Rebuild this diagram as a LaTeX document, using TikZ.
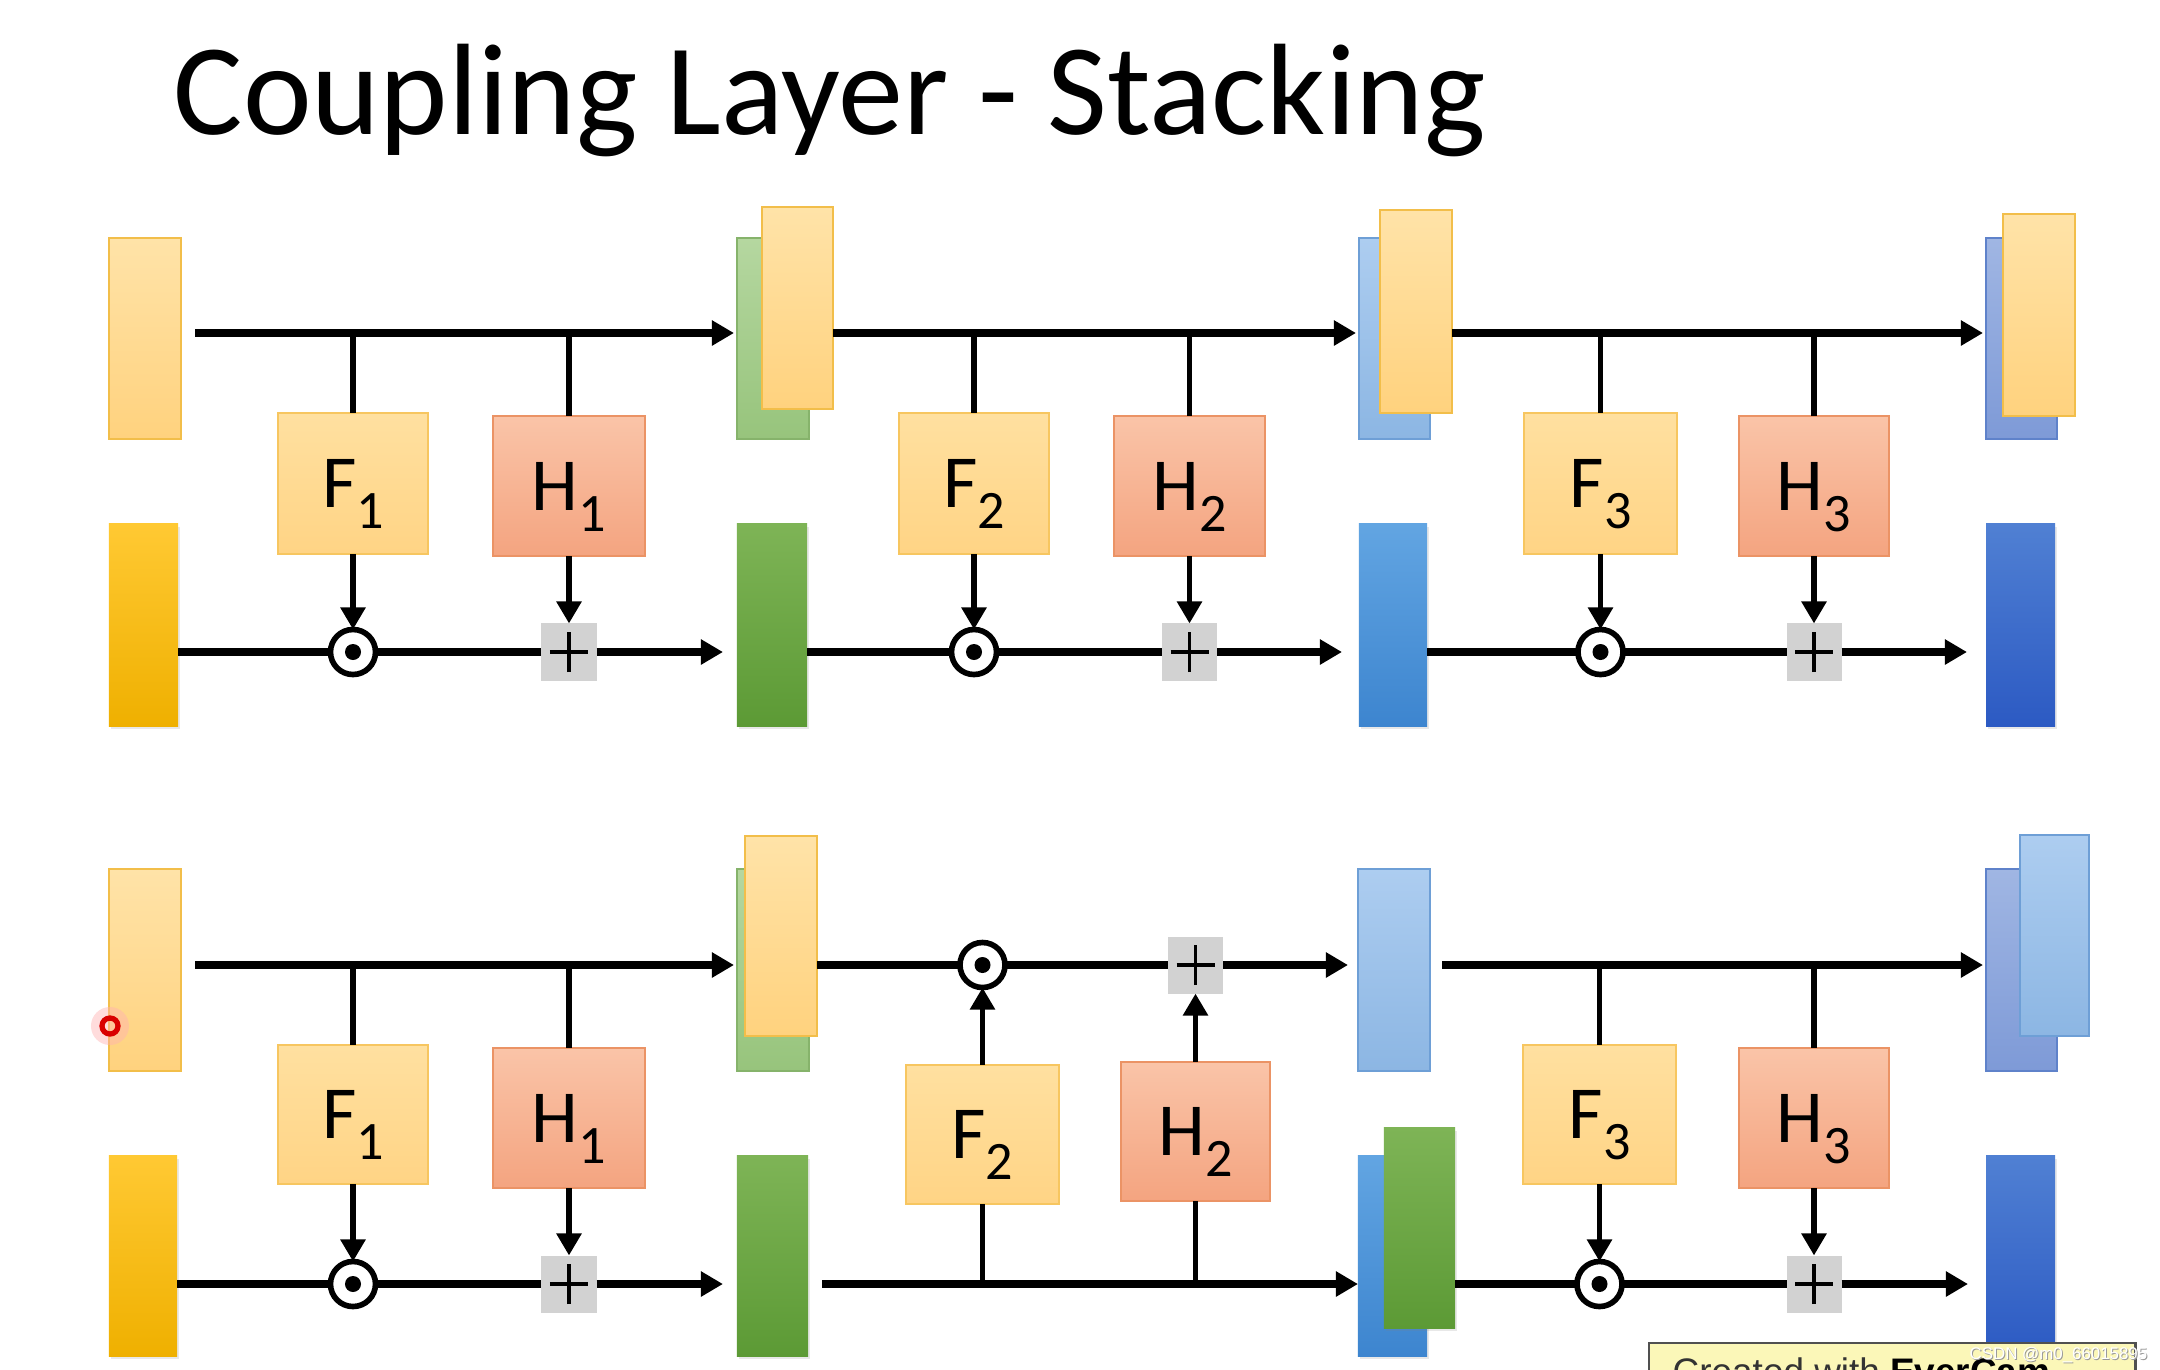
\documentclass[tikz,border=0pt]{standalone}
\usepackage{fontspec}
\setmainfont{Carlito}
\newfontfamily\arialfont{Liberation Sans}
\usetikzlibrary{arrows.meta,calc,shadows}
\definecolor{orTop}{HTML}{FFE3A8}
\definecolor{orBot}{HTML}{FFD27E}
\definecolor{orEdge}{HTML}{F2BE4A}
\definecolor{fTop}{HTML}{FFE0A0}
\definecolor{fBot}{HTML}{FFD485}
\definecolor{fEdge}{HTML}{F7C660}
\definecolor{hTop}{HTML}{FAC4A8}
\definecolor{hBot}{HTML}{F4A480}
\definecolor{hEdge}{HTML}{EB9365}
\definecolor{gdTop}{HTML}{FFC933}
\definecolor{gdBot}{HTML}{EFB000}
\definecolor{lgTop}{HTML}{B5D7A0}
\definecolor{lgBot}{HTML}{97C47C}
\definecolor{lgEdge}{HTML}{86B36B}
\definecolor{gnTop}{HTML}{7EB456}
\definecolor{gnBot}{HTML}{5C9A35}
\definecolor{lbTop}{HTML}{ADCDF0}
\definecolor{lbBot}{HTML}{8CB6E3}
\definecolor{lbEdge}{HTML}{6E9FD6}
\definecolor{mbTop}{HTML}{62A5E2}
\definecolor{mbBot}{HTML}{3D85CF}
\definecolor{pwTop}{HTML}{A0B6E3}
\definecolor{pwBot}{HTML}{7E9AD7}
\definecolor{pwEdge}{HTML}{5F82CA}
\definecolor{dbTop}{HTML}{5080D3}
\definecolor{dbBot}{HTML}{2C5AC3}
\definecolor{plusgray}{HTML}{D2D2D2}
\definecolor{tipfill}{HTML}{FBF7B8}
\definecolor{tipedge}{HTML}{505050}
\newcommand\flab[2]{#1\raisebox{-6.1pt}{\fontsize{15.4pt}{17pt}\selectfont #2}}
\tikzset{
  bar/.style={rectangle, inner sep=0pt, outer sep=0pt},
  shad/.style={drop shadow={shadow xshift=0.02cm, shadow yshift=-0.03cm, opacity=0.18}},
  lorange/.style={bar, top color=orTop, bottom color=orBot, draw=orEdge, line width=0.5pt},
  gold/.style={bar, shad, top color=gdTop, bottom color=gdBot},
  lgreen/.style={bar, top color=lgTop, bottom color=lgBot, draw=lgEdge, line width=0.5pt},
  green/.style={bar, shad, top color=gnTop, bottom color=gnBot},
  lblue/.style={bar, top color=lbTop, bottom color=lbBot, draw=lbEdge, line width=0.5pt},
  mblue/.style={bar, shad, top color=mbTop, bottom color=mbBot},
  peri/.style={bar, top color=pwTop, bottom color=pwBot, draw=pwEdge, line width=0.5pt},
  dblue/.style={bar, shad, top color=dbTop, bottom color=dbBot},
  fnbox/.style={rectangle, inner sep=0pt, outer sep=0pt, line width=0.6pt,
     font=\fontsize{21.3pt}{24pt}\selectfont, text depth=0pt},
  fbox/.style={fnbox, top color=fTop, bottom color=fBot, draw=fEdge},
  hbox/.style={fnbox, top color=hTop, bottom color=hBot, draw=hEdge},
  odot/.style={circle, draw=black, line width=1.6pt, fill=white, minimum size=0.45cm,
     inner sep=0pt, outer sep=0pt,
     path picture={\fill[black] (path picture bounding box.center) circle[radius=0.08cm];}},
  plusbox/.style={rectangle, fill=plusgray, minimum width=0.55cm, minimum height=0.57cm,
     inner sep=0pt, outer sep=0pt,
     path picture={\draw[black,line width=0.9pt]
        ([xshift=-0.19cm]path picture bounding box.center) -- ([xshift=0.19cm]path picture bounding box.center)
        ([yshift=-0.2cm]path picture bounding box.center) -- ([yshift=0.2cm]path picture bounding box.center);}},
  mline/.style={line width=2.1pt, black},
  bline/.style={line width=1.6pt, black},
  arr/.style={-{Triangle[length=0.22cm,width=0.24cm]}}
}
\begin{document}
\begin{tikzpicture}[x=0.01cm,y=-0.01cm]
\useasboundingbox (0,0) rectangle (2160,1369);
\clip (0,0) rectangle (2160,1369);
\fill[white] (0,0) rectangle (2160,1369);

\coordinate (LA1) at (0,333);
\coordinate (LA2) at (0,652);
\coordinate (LB1) at (0,965);
\coordinate (LB2) at (0,1284);

% title
\node[anchor=base west, inner sep=0pt, font=\fontsize{37pt}{44pt}\selectfont] (title) at (173,134) {Coupling Layer - Stacking};

% ---------- top diagram: bars ----------
\node[lorange, minimum width=0.72cm, minimum height=2.01cm] (A0t) at (145,338.5) {};
\node[gold, minimum width=0.69cm, minimum height=2.02cm] (A0b) at (143.5,625) {};
\node[lgreen, minimum width=0.72cm, minimum height=2.01cm] (A1k) at (773,338.5) {};
\node[lorange, minimum width=0.71cm, minimum height=2.02cm] (A1f) at (797.5,308) {};
\node[green, minimum width=0.70cm, minimum height=2.02cm] (A1g) at (772,625) {};
\node[lblue, minimum width=0.71cm, minimum height=2.01cm] (A2k) at (1394.5,338.5) {};
\node[lorange, minimum width=0.72cm, minimum height=2.03cm] (A2f) at (1416,311.5) {};
\node[mblue, minimum width=0.68cm, minimum height=2.02cm] (A2g) at (1393,625) {};
\node[peri, minimum width=0.71cm, minimum height=2.01cm] (A3k) at (2021.5,338.5) {};
\node[lorange, minimum width=0.72cm, minimum height=2.02cm] (A3f) at (2039,315) {};
\node[dblue, minimum width=0.69cm, minimum height=2.02cm] (A3g) at (2020.5,625) {};

% ---------- bottom diagram: bars ----------
\node[lorange, minimum width=0.72cm, minimum height=2.02cm] (B0t) at (145,970) {};
\node[gold, minimum width=0.68cm, minimum height=2.00cm] (B0b) at (143,1256) {};
\node[lgreen, minimum width=0.72cm, minimum height=2.02cm] (B1k) at (773,970) {};
\node[lorange, minimum width=0.72cm, minimum height=2.00cm] (B1f) at (781,936) {};
\node[green, minimum width=0.71cm, minimum height=2.00cm] (B1g) at (772.5,1256) {};
\node[lblue, minimum width=0.72cm, minimum height=2.02cm] (B2t) at (1394,970) {};
\node[mblue, minimum width=0.69cm, minimum height=2.00cm] (B2k) at (1392.5,1256) {};
\node[green, minimum width=0.71cm, minimum height=2.00cm] (B2f) at (1419.5,1228) {};
\node[peri, minimum width=0.71cm, minimum height=2.02cm] (B3k) at (2021.5,970) {};
\node[lblue, minimum width=0.69cm, minimum height=2.01cm] (B3f) at (2054.5,935.5) {};
\node[dblue, minimum width=0.69cm, minimum height=2.00cm] (B3g) at (2020.5,1256) {};

% ---------- function boxes ----------
\node[fbox, minimum width=1.50cm, minimum height=1.41cm] (F1A) at (353,483.5) {\flab{F}{1}};
\node[hbox, minimum width=1.52cm, minimum height=1.40cm] (H1A) at (569,486) {\flab{H}{1}};
\node[fbox, minimum width=1.50cm, minimum height=1.41cm] (F2A) at (974,483.5) {\flab{F}{2}};
\node[hbox, minimum width=1.51cm, minimum height=1.40cm] (H2A) at (1189.5,486) {\flab{H}{2}};
\node[fbox, minimum width=1.53cm, minimum height=1.41cm] (F3A) at (1600.5,483.5) {\flab{F}{3}};
\node[hbox, minimum width=1.50cm, minimum height=1.40cm] (H3A) at (1814,486) {\flab{H}{3}};

\node[fbox, minimum width=1.50cm, minimum height=1.39cm] (F1B) at (353,1114.5) {\flab{F}{1}};
\node[hbox, minimum width=1.52cm, minimum height=1.40cm] (H1B) at (569,1118) {\flab{H}{1}};
\node[fbox, minimum width=1.53cm, minimum height=1.39cm] (F2B) at (982.5,1134.5) {\flab{F}{2}};
\node[hbox, minimum width=1.49cm, minimum height=1.39cm] (H2B) at (1195.5,1131.5) {\flab{H}{2}};
\node[fbox, minimum width=1.53cm, minimum height=1.39cm] (F3B) at (1599.5,1114.5) {\flab{F}{3}};
\node[hbox, minimum width=1.50cm, minimum height=1.40cm] (H3B) at (1814,1118) {\flab{H}{3}};

% ---------- operators ----------
\node[odot] (oA1) at (F1A |- LA2) {};
\node[plusbox] (pA1) at (H1A |- LA2) {};
\node[odot] (oA2) at (F2A |- LA2) {};
\node[plusbox] (pA2) at (H2A |- LA2) {};
\node[odot] (oA3) at (F3A |- LA2) {};
\node[plusbox] (pA3) at (H3A |- LA2) {};

\node[odot] (oB1) at (F1B |- LB2) {};
\node[plusbox] (pB1) at (H1B |- LB2) {};
\node[odot] (oB2) at (F2B |- LB1) {};
\node[plusbox] (pB2) at (H2B |- LB1) {};
\node[odot] (oB3) at (F3B |- LB2) {};
\node[plusbox] (pB3) at (H3B |- LB2) {};

% ---------- top diagram connectors ----------
\draw[mline,arr,shorten <=0.14cm,shorten >=0.03cm] (A0t.east |- LA1) -- (A1k.west |- LA1);
\draw[bline] (F1A.north) -- (F1A.north |- LA1);
\draw[bline] (H1A.north) -- (H1A.north |- LA1);
\draw[bline,arr] (F1A.south) -- (oA1.north);
\draw[bline,arr] (H1A.south) -- (pA1.north);
\draw[mline] (A0b.east |- LA2) -- (oA1.west);
\draw[mline] (oA1.east) -- (pA1.west);
\draw[mline,arr,shorten >=0.14cm] (pA1.east) -- (A1g.west |- LA2);

\draw[mline,arr,shorten >=0.03cm] (A1f.east |- LA1) -- (A2k.west |- LA1);
\draw[bline] (F2A.north) -- (F2A.north |- LA1);
\draw[bline] (H2A.north) -- (H2A.north |- LA1);
\draw[bline,arr] (F2A.south) -- (oA2.north);
\draw[bline,arr] (H2A.south) -- (pA2.north);
\draw[mline] (A1g.east |- LA2) -- (oA2.west);
\draw[mline] (oA2.east) -- (pA2.west);
\draw[mline,arr,shorten >=0.17cm] (pA2.east) -- (A2g.west |- LA2);

\draw[mline,arr,shorten >=0.03cm] (A2f.east |- LA1) -- (A3k.west |- LA1);
\draw[bline] (F3A.north) -- (F3A.north |- LA1);
\draw[bline] (H3A.north) -- (H3A.north |- LA1);
\draw[bline,arr] (F3A.south) -- (oA3.north);
\draw[bline,arr] (H3A.south) -- (pA3.north);
\draw[mline] (A2g.east |- LA2) -- (oA3.west);
\draw[mline] (oA3.east) -- (pA3.west);
\draw[mline,arr,shorten >=0.19cm] (pA3.east) -- (A3g.west |- LA2);

% ---------- bottom diagram connectors ----------
\draw[mline,arr,shorten <=0.14cm,shorten >=0.03cm] (B0t.east |- LB1) -- (B1k.west |- LB1);
\draw[bline] (F1B.north) -- (F1B.north |- LB1);
\draw[bline] (H1B.north) -- (H1B.north |- LB1);
\draw[bline,arr] (F1B.south) -- (oB1.north);
\draw[bline,arr] (H1B.south) -- (pB1.north);
\draw[mline] (B0b.east |- LB2) -- (oB1.west);
\draw[mline] (oB1.east) -- (pB1.west);
\draw[mline,arr,shorten >=0.14cm] (pB1.east) -- (B1g.west |- LB2);

\draw[mline] (B1f.east |- LB1) -- (oB2.west);
\draw[mline] (oB2.east) -- (pB2.west);
\draw[mline,arr,shorten >=0.10cm] (pB2.east) -- (B2t.west |- LB1);
\draw[bline,arr] (F2B.north) -- (oB2.south);
\draw[bline,arr] (H2B.north) -- (pB2.south);
\draw[mline,arr,shorten <=0.14cm] (B1g.east |- LB2) -- (B2k.west |- LB2);
\draw[bline] (F2B.south) -- (F2B.south |- LB2);
\draw[bline] (H2B.south) -- (H2B.south |- LB2);

\draw[mline,arr,shorten <=0.12cm,shorten >=0.03cm] (B2t.east |- LB1) -- (B3k.west |- LB1);
\draw[bline] (F3B.north) -- (F3B.north |- LB1);
\draw[bline] (H3B.north) -- (H3B.north |- LB1);
\draw[bline,arr] (F3B.south) -- (oB3.north);
\draw[bline,arr] (H3B.south) -- (pB3.north);
\draw[mline] (B2f.east |- LB2) -- (oB3.west);
\draw[mline] (oB3.east) -- (pB3.west);
\draw[mline,arr,shorten >=0.18cm] (pB3.east) -- (B3g.west |- LB2);

% ---------- cursor highlight ----------
\node[circle, fill=red!30, opacity=0.45, minimum size=0.38cm, inner sep=0pt] (glow) at (110,1026) {};
\node[circle, draw=red!85!black, line width=1.5pt, minimum size=0.16cm, inner sep=0pt] (cursor) at (110,1026) {};

% ---------- tooltip and watermark ----------
\node[anchor=north west, draw=tipedge, line width=0.7pt, fill=tipfill, minimum width=4.86cm, minimum height=0.6cm, inner sep=0pt] (tip) at (1648,1342) {};
\node[anchor=base west, inner sep=0pt, font=\arialfont\fontsize{10.5pt}{12pt}\selectfont, text=black!80] (tiptext) at (1672,1384) {Created with \textbf{\color{black}EverCam}};
\node[anchor=base west, inner sep=0pt, font=\arialfont\fontsize{4.8pt}{6pt}\selectfont, text=gray!80] (wmshadow) at (1970,1360) {CSDN @m0\_66015895};
\node[anchor=base west, inner sep=0pt, font=\arialfont\fontsize{4.8pt}{6pt}\selectfont, text=white] (wm) at (1969,1359) {CSDN @m0\_66015895};
\end{tikzpicture}
\end{document}
